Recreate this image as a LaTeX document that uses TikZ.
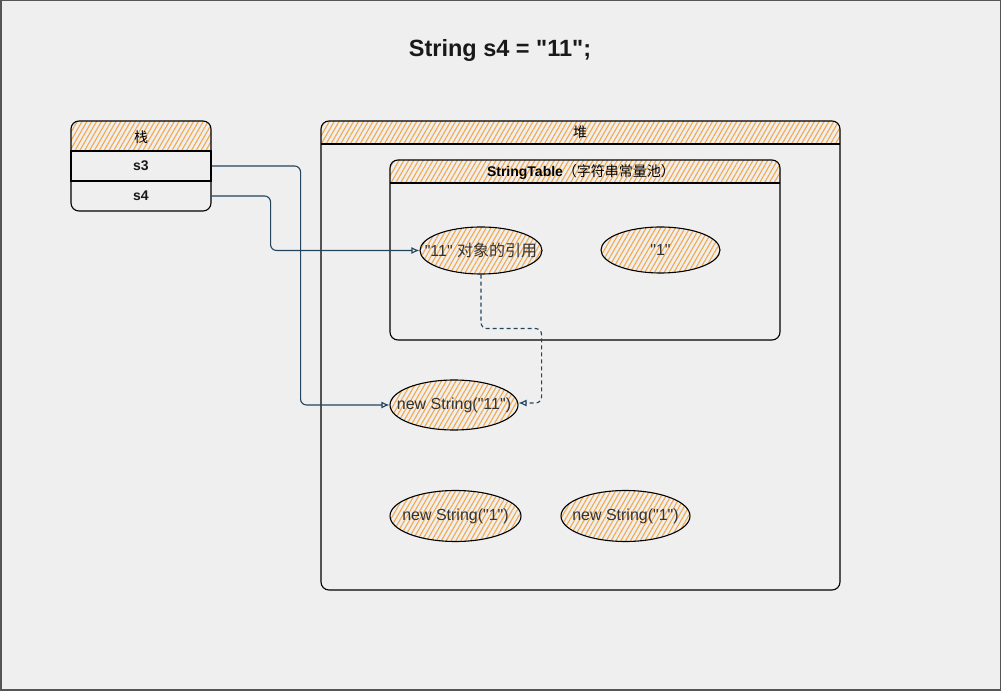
\documentclass[tikz,border=0pt]{standalone}
\usepackage{fontspec}
\setmainfont{Liberation Sans}[Ligatures=TeXOff]
\newfontfamily\cjk{Noto Sans CJK SC}
\usetikzlibrary{shapes.geometric,patterns.meta,arrows.meta,calc}
\newcommand\dq{\char34\relax}
\definecolor{bg}{HTML}{EFEFEF}
\definecolor{hatch}{HTML}{F5A849}
\definecolor{conn}{HTML}{23445D}
\definecolor{txt}{HTML}{333333}
\definecolor{frame}{HTML}{555555}
\tikzset{
  hatchfill/.style={pattern={Lines[angle=60,distance=4.2pt,line width=1.1pt]},pattern color=hatch},
  outline/.style={draw=black,line width=1.1pt},
  lbl/.style={font=\fontsize{14}{16}\selectfont,text=black,inner sep=0pt},
  rowbox/.style={outline,fill=bg,minimum width=140pt,minimum height=30pt,inner sep=0pt,
    font=\bfseries\fontsize{14}{16}\selectfont,text=black!90},
  blob/.style={ellipse,outline,hatchfill,inner sep=0pt,text=txt,
    font=\fontsize{16}{18}\selectfont},
  conn/.style={draw=conn,line width=1.1pt,rounded corners=6pt,-{Latex[open,length=8pt,width=7pt]}},
}
\newcommand\zw[1]{\makebox[0pt]{#1}}
\begin{document}
\begin{tikzpicture}[x=1pt,y=-1pt]
\useasboundingbox (0,0) rectangle (1002,692);
% background frame
\draw[fill=bg,draw=frame,line width=1.5pt] (0.75,0.75) rectangle (1000.5,690);
% title
\node[font=\bfseries\fontsize{23.5}{27}\selectfont,text=black!90] (title) at (500,50) {String s4 = \dq 11\dq;};

% stack
\begin{scope}
  \clip (60,110) rectangle (220,151);
  \fill[hatchfill,rounded corners=8pt] (71,121) rectangle (211,170);
  \draw[outline,rounded corners=8pt] (71,121) rectangle (211,170);
\end{scope}
\begin{scope}
  \clip (60,181) rectangle (220,222);
  \draw[outline,rounded corners=8pt] (71,160) rectangle (211,211);
\end{scope}
\node[lbl] (stackhead) at (141,137) {\cjk 栈};
\node[rowbox] (s3) at (141,166) {s3};
\node[rowbox,draw=none,fill=none] (s4) at (141,196) {s4};

% heap
\begin{scope}
  \clip (310,110) rectangle (850,144);
  \fill[hatchfill,rounded corners=8pt] (321,121) rectangle (840,590);
\end{scope}
\node[outline,rounded corners=8pt,minimum width=519pt,minimum height=469pt,inner sep=0pt] (heap) at (580.5,355.5) {};
\draw[outline] (321,144) -- (840,144);
\node[lbl] (heaphead) at (580,132.5) {\cjk 堆};

% string table
\begin{scope}
  \clip (380,150) rectangle (790,183);
  \fill[hatchfill,rounded corners=8pt] (390,160) rectangle (780,340);
\end{scope}
\node[outline,rounded corners=8pt,minimum width=390pt,minimum height=180pt,inner sep=0pt] (table) at (585,250) {};
\draw[outline] (390,183) -- (780,183);
\node[lbl] (tablehead) at (581,172) {{\bfseries StringTable}{\cjk （字符串常量池）}};

% objects
\node[blob,minimum width=122pt,minimum height=47pt] (ref) at (481,250.5) {\zw{\dq 11\dq{} {\cjk 对象的引用}}};
\node[blob,minimum width=119pt,minimum height=46pt] (one) at (660.5,250) {\zw{\dq 1\dq}};
\node[blob,minimum width=128pt,minimum height=50pt] (n11) at (454,405) {\zw{new String(\dq 11\dq)}};
\node[blob,minimum width=131pt,minimum height=51pt] (n1a) at (455.5,516) {\zw{new String(\dq 1\dq)}};
\node[blob,minimum width=129pt,minimum height=51pt] (n1b) at (625.5,516) {\zw{new String(\dq 1\dq)}};

% connectors
\draw[conn] (s3.east) -- ++(89,0) |- (n11.west);
\draw[conn] (s4.east) -- ++(59,0) |- (ref.west);
\draw[conn,dashed,dash pattern=on 4pt off 3pt] (ref.south) -- ++(0,54) -| ($(n11.east)+(23,-2)$) -- ($(n11.east)+(0,-2)$);
\end{tikzpicture}
\end{document}
